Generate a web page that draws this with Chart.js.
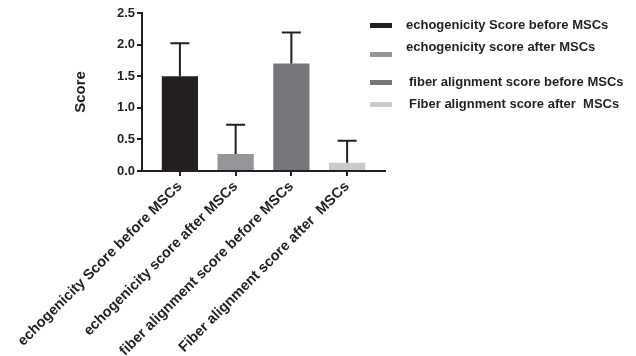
<!DOCTYPE html>
<html lang="en">
<head>
<meta charset="UTF-8">
<title>Score before and after MSCs</title>
<script src="https://cdn.jsdelivr.net/npm/chart.js"></script>
<style>
  body { margin: 0; background: #fff; }
  #wrap { position: relative; width: 636px; height: 356px; }
  .leg { position: absolute; font: bold 13px "Liberation Sans", Arial, sans-serif; color: #231f20; white-space: pre; line-height: 16px; }
  .sw { position: absolute; width: 22px; height: 5px; }
</style>
</head>
<body>
<div id="wrap">
  <canvas id="scoreChart" width="636" height="356"></canvas>
  <div id="legend"></div>
</div>
<script>
// data
const categories = [
  'echogenicity Score before MSCs',
  'echogenicity score after MSCs',
  'fiber alignment score before MSCs',
  'Fiber alignment score after  MSCs'
];
const meanScores = [1.5, 0.27, 1.7, 0.13];
const errUpper = [0.52, 0.46, 0.49, 0.35];
const barColors = ['#231f20', '#939598', '#76777a', '#c9cacc'];
const yTicks = [0, 0.5, 1.0, 1.5, 2.0, 2.5];

// legend placement (text top-left, swatch top)
const legendPos = [
  { tx: 406, ty: 17, sy: 23 },
  { tx: 406, ty: 39, sy: 52 },
  { tx: 409, ty: 74, sy: 80 },
  { tx: 409, ty: 96, sy: 102 }
];

const ink = '#231f20';
const font = 'Liberation Sans, Arial, sans-serif';

const errorBars = {
  id: 'errorBars',
  afterDatasetsDraw(chart) {
    const { ctx, scales: { y } } = chart;
    const meta = chart.getDatasetMeta(0);
    ctx.save();
    ctx.strokeStyle = ink;
    ctx.lineWidth = 2;
    meta.data.forEach((bar, i) => {
      const top = y.getPixelForValue(meanScores[i] + errUpper[i]);
      ctx.beginPath();
      ctx.moveTo(bar.x, bar.y);
      ctx.lineTo(bar.x, top);
      ctx.moveTo(bar.x - 9.5, top);
      ctx.lineTo(bar.x + 9.5, top);
      ctx.stroke();
    });
    ctx.restore();
  }
};

new Chart(document.getElementById('scoreChart'), {
  type: 'bar',
  data: {
    datasets: [{
      data: categories.map((c, i) => ({ x: i, y: meanScores[i] })),
      backgroundColor: barColors,
      barPercentage: 0.65,
      categoryPercentage: 1
    }]
  },
  options: {
    responsive: false,
    animation: false,
    layout: { padding: { top: 13, right: 251, left: 0, bottom: 0 } },
    plugins: { legend: { display: false }, tooltip: { enabled: false } },
    scales: {
      x: {
        type: 'linear',
        min: -0.68,
        max: 3.68,
        offset: false,
        afterBuildTicks: s => { s.ticks = categories.map((c, i) => ({ value: i })); },
        afterFit: s => { s.height = 185; s.paddingLeft = 0; s.paddingRight = 0; },
        grid: { offset: false, drawOnChartArea: false, tickLength: 5, color: ink, lineWidth: 2 },
        border: { color: ink, width: 2 },
        ticks: {
          autoSkip: false,
          minRotation: 45,
          maxRotation: 45,
          padding: 2,
          color: ink,
          font: { family: font, size: 14.5, weight: 'bold' },
          callback: v => categories[v]
        }
      },
      y: {
        min: 0,
        max: 2.5,
        afterBuildTicks: s => { s.ticks = yTicks.map(v => ({ value: v })); },
        afterFit: s => { s.width = 142; },
        grid: { drawOnChartArea: false, tickLength: 5, color: ink, lineWidth: 2 },
        border: { color: ink, width: 2 },
        ticks: {
          padding: 2,
          color: ink,
          font: { family: font, size: 13, weight: 'bold' },
          callback: v => v.toFixed(1)
        },
        title: {
          display: true,
          text: 'Score',
          color: ink,
          font: { family: font, size: 15, weight: 'bold' },
          padding: { top: 72, bottom: 0 }
        }
      }
    }
  },
  plugins: [errorBars]
});

// legend
const legend = document.getElementById('legend');
legend.innerHTML = categories.map((c, i) => `
  <div class="sw" style="left:370px; top:${legendPos[i].sy}px; background:${barColors[i]}"></div>
  <div class="leg" style="left:${legendPos[i].tx}px; top:${legendPos[i].ty}px">${c}</div>
`).join('');
</script>
</body>
</html>
